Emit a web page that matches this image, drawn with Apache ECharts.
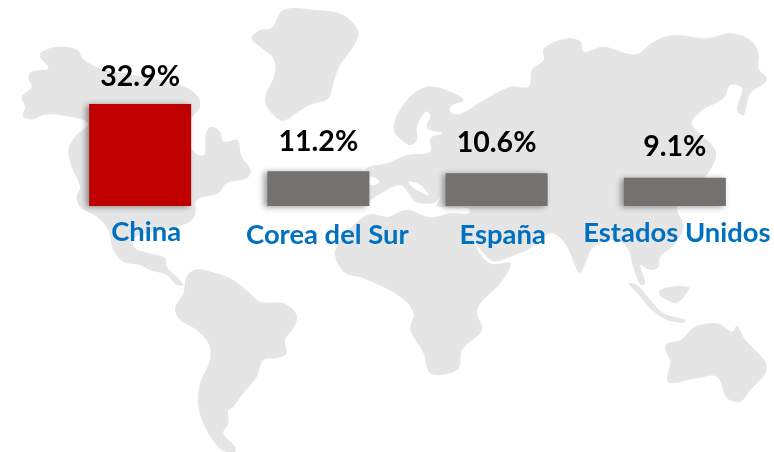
<!DOCTYPE html>
<html>
<head>
<meta charset="utf-8">
<style>
  html, body { margin: 0; background: #fff; }
  #chart { width: 774px; height: 452px; }
</style>
</head>
<body>
<div id="chart"></div>
<script src="https://cdn.jsdelivr.net/npm/echarts@6/dist/echarts.min.js"></script>
<script>
const categories = ['China', 'Corea del Sur', 'España', 'Estados Unidos'];
const shares = [32.9, 11.2, 10.6, 9.1];
const barColors = ['#C00000', '#767171', '#767171', '#767171'];

// background map outlines, traced at 3x from the picture
const leftLand = [
  [[125,155],[175,140],[232,150],[250,178],[300,205],[400,225],[540,255],[590,285],[600,320],[573,360],[573,440],[600,467],[615,460],[618,400],[635,380],[660,395],[672,425],[712,420],[725,470],[752,510],[740,535],[680,550],[655,580],[590,600],[587,640],[570,665],[530,680],[480,690],[400,715],[405,745],[450,760],[495,775],[500,800],[530,830],[550,855],[530,855],[500,825],[450,810],[420,795],[370,785],[340,750],[325,690],[290,650],[240,620],[230,590],[240,560],[215,500],[205,450],[225,410],[265,370],[180,345],[130,345],[100,358],[70,350],[75,320],[65,290],[95,262],[85,235],[95,215],[145,205],[120,170]],
  [[560,830],[590,808],[650,820],[700,840],[750,880],[780,905],[850,910],[890,945],[880,985],[855,1020],[860,1060],[830,1075],[790,1080],[770,1130],[730,1180],[700,1220],[685,1230],[685,1270],[670,1300],[705,1340],[705,1355],[665,1350],[620,1290],[595,1220],[600,1150],[630,1080],[625,1030],[590,990],[540,960],[525,925],[550,880]],
  [[850,30],[950,30],[1030,45],[1075,95],[1060,140],[1020,195],[1000,250],[985,295],[930,315],[895,335],[850,362],[820,345],[795,300],[825,220],[820,175],[785,145],[755,115],[780,90],[815,85]]
];
const rightLand = [
  [[20,385],[60,300],[120,260],[190,275],[230,300],[190,320],[195,340],[225,340],[290,300],[370,260],[425,260],[435,210],[470,180],[470,145],[540,115],[580,125],[590,155],[650,140],[745,163],[800,125],[860,105],[960,115],[1030,100],[1090,120],[1115,160],[1115,205],[1140,240],[1090,280],[1070,345],[1050,330],[1065,265],[1030,255],[1010,295],[940,335],[915,375],[985,450],[970,510],[920,560],[870,620],[890,680],[860,735],[820,770],[815,800],[790,810],[760,795],[775,850],[760,855],[735,790],[725,750],[690,720],[620,740],[595,790],[580,820],[570,810],[540,740],[500,700],[470,710],[430,745],[370,770],[320,785],[290,760],[262,720],[240,660],[100,640],[-60,620],[-65,510],[0,490],[60,465],[130,455],[130,415],[165,400],[120,385],[130,345],[115,335],[90,380],[90,420],[65,435]],
  [[0,640],[60,630],[130,650],[190,640],[245,635],[265,735],[310,790],[370,790],[340,850],[280,910],[270,940],[285,990],[225,1050],[215,1105],[160,1125],[125,1115],[110,1060],[70,990],[80,940],[40,890],[-70,835],[-130,815],[-155,750],[-70,650]],
  [[725,850],[750,855],[790,900],[830,940],[895,960],[890,968],[840,960],[795,930],[760,890]],
  [[815,875],[850,860],[905,860],[905,870],[870,908],[830,895]],
  [[840,1030],[880,1020],[925,980],[990,970],[1035,995],[1050,978],[1075,1020],[1135,1085],[1135,1120],[1090,1170],[1060,1205],[1020,1195],[990,1130],[930,1135],[850,1150],[840,1135],[850,1085],[835,1050]]
];
const seas = [
  [[-60,610],[0,570],[40,555],[65,580],[85,605],[140,610],[160,595],[150,618],[245,625],[245,640],[190,640],[130,652],[60,630],[0,650],[-60,630]],
  [[65,545],[100,555],[125,585],[100,575],[75,560]],
  [[-50,530],[-25,540],[-25,550],[-50,555]]
];

const chart = echarts.init(document.getElementById('chart'));

function shapes(list, color, x, z) {
  return list.map(function (points) {
    return {
      type: 'polygon',
      x: x,
      z: z,
      scaleX: 1 / 3,
      scaleY: 1 / 3,
      silent: true,
      shape: { points: points, smooth: 0.35 },
      style: { fill: color }
    };
  });
}

const labelOffsets = [[0, 2], [0, 0], [0, -1], [0, -1]];
const axisPadding = [[0, 0, 0, 12], [3, 0, 0, 18], [3, 0, 0, 12], [1, 0, 0, 4]];

chart.setOption({
  animation: false,
  backgroundColor: '#fff',
  graphic: shapes(leftLand, '#E5E5E5', 0, 0)
    .concat(shapes(rightLand, '#E5E5E5', 387, 0))
    .concat(shapes(seas, '#fff', 387, 1)),
  grid: { left: 51, right: 10, top: 82, height: 124 },
  xAxis: {
    type: 'category',
    data: categories.map(function (name, i) {
      return { value: name, textStyle: { padding: axisPadding[i] } };
    }),
    axisLine: { show: false },
    axisTick: { show: false },
    axisLabel: {
      margin: 13,
      interval: 0,
      color: '#0070C0',
      fontFamily: 'Lato',
      fontWeight: 'bold',
      fontSize: 27.4
    }
  },
  yAxis: { type: 'value', min: 0, max: 40, show: false },
  series: [{
    type: 'bar',
    barWidth: 102,
    data: shares.map(function (value, i) {
      return {
        value: value,
        itemStyle: { color: barColors[i] },
        label: { offset: labelOffsets[i] }
      };
    }),
    itemStyle: {
      shadowColor: 'rgba(0,0,0,0.4)',
      shadowBlur: 6,
      shadowOffsetX: -3,
      shadowOffsetY: 1
    },
    label: {
      show: true,
      position: 'top',
      distance: 15,
      color: '#000',
      fontFamily: 'Lato',
      fontWeight: 'bold',
      fontSize: 28.5,
      formatter: function (p) { return p.value.toFixed(1) + '%'; }
    }
  }]
});
</script>
</body>
</html>
